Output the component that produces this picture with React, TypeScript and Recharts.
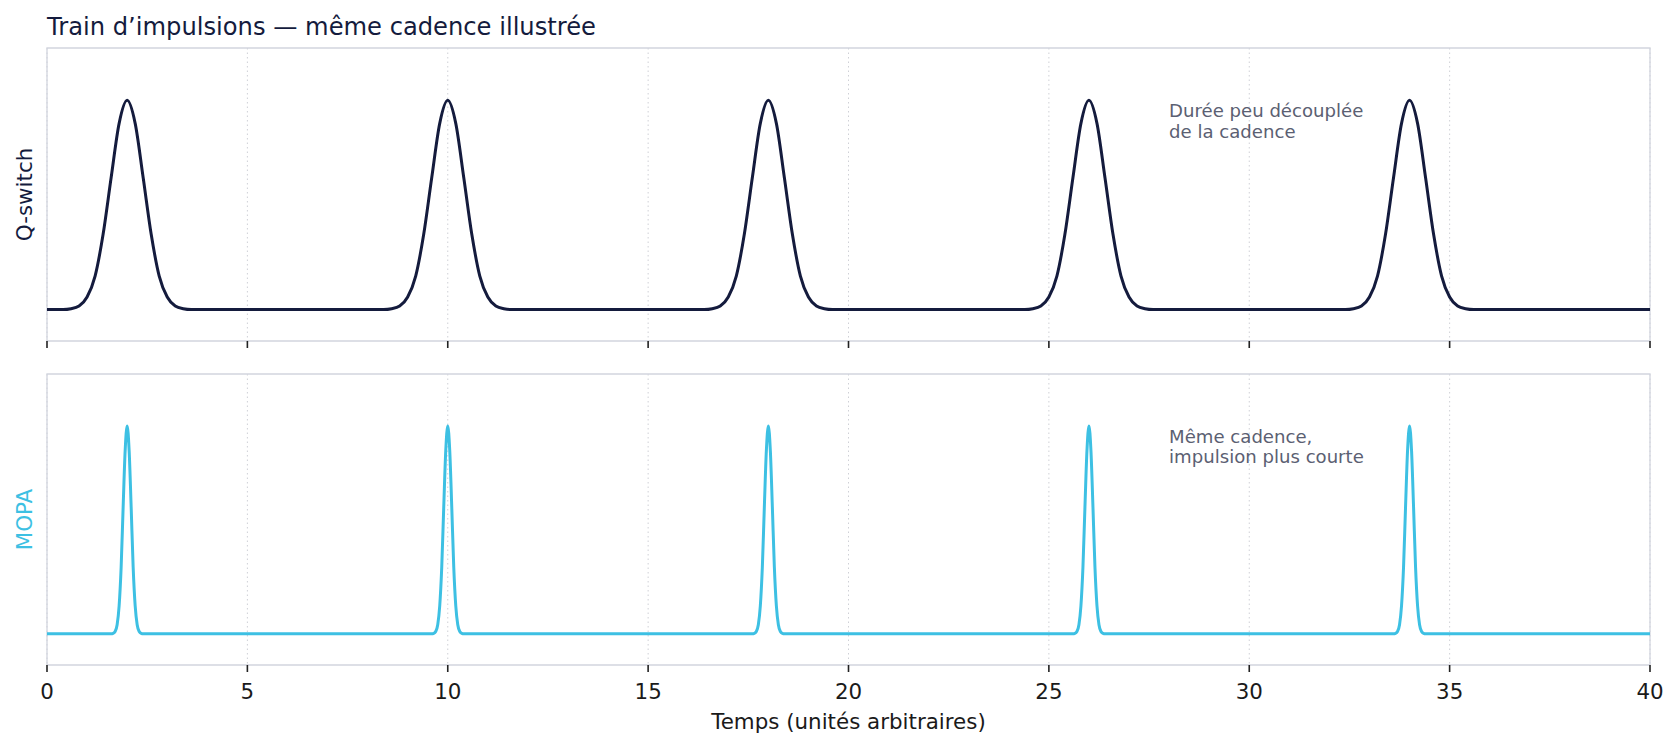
import React from "react";
import {
  LineChart,
  Line,
  XAxis,
  YAxis,
  CartesianGrid,
  ReferenceArea,
  ReferenceDot,
} from "recharts";

// ---- data ----
const pulseCenters = [2, 10, 18, 26, 34];
const timeTicks = [0, 5, 10, 15, 20, 25, 30, 35, 40];
const timeRange = [0, 40];

// Q-switch pulse profile (offset from pulse centre -> relative level)
const qswitchOffsets = [-1.6, -1.4, -1.2, -1.0, -0.8, -0.6, -0.4, -0.2, 0, 0.2, 0.4, 0.6, 0.8, 1.0, 1.2, 1.4, 1.6];
const qswitchShape = [0, 0.004, 0.017, 0.06, 0.16, 0.36, 0.63, 0.89, 1, 0.89, 0.63, 0.36, 0.16, 0.06, 0.017, 0.004, 0];

// MOPA pulse profile (much shorter)
const mopaOffsets = [-0.4, -0.35, -0.3, -0.25, -0.2, -0.15, -0.1, -0.05, 0, 0.05, 0.1, 0.15, 0.2, 0.25, 0.3, 0.35, 0.4];
const mopaShape = [0, 0.002, 0.011, 0.044, 0.135, 0.32, 0.61, 0.88, 1, 0.88, 0.61, 0.32, 0.135, 0.044, 0.011, 0.002, 0];

const levelDomain = [-0.15, 1.25];

const titleText = "Train d’impulsions — même cadence illustrée";
const xLabel = "Temps (unités arbitraires)";
const qswitchName = "Q-switch";
const mopaName = "MOPA";
const qswitchNote = ["Durée peu découplée", "de la cadence"];
const mopaNote = ["Même cadence,", "impulsion plus courte"];
const noteAt = { t: 28, level: 0.92 };

// ---- build tables ----
function buildSeries(offsets: number[], shape: number[]) {
  const rows: { t: number; v: number }[] = [{ t: timeRange[0], v: 0 }];
  pulseCenters.forEach((c) => {
    offsets.forEach((o, i) => rows.push({ t: +(c + o).toFixed(3), v: shape[i] }));
  });
  rows.push({ t: timeRange[1], v: 0 });
  return rows;
}
const qswitchData = buildSeries(qswitchOffsets, qswitchShape);
const mopaData = buildSeries(mopaOffsets, mopaShape);

const NAVY = "#141b3d";
const CYAN = "#3dc0e3";
const FRAME = "#d2d5de";
const GRID = "#cfd0d6";
const NOTE = "#5b6072";
const FONT = "'DejaVu Sans', sans-serif";
const TICK_FS = 21.4;
const NOTE_FS = 18.1;

const Note = (lines: string[]) => (props: any) => {
  const { cx, cy } = props;
  return (
    <g>
      {lines.map((l, i) => (
        <text key={i} x={cx} y={cy + i * 20.8} fill={NOTE} fontSize={NOTE_FS} fontFamily={FONT}>
          {l}
        </text>
      ))}
    </g>
  );
};

const EmptyTick = () => <g />;

function Panel(props: {
  data: { t: number; v: number }[];
  color: string;
  name: string;
  note: string[];
  height: number;
  marginTop: number;
  axisHeight: number;
  showLabels: boolean;
}) {
  const { data, color, name, note, height, marginTop, axisHeight, showLabels } = props;
  return (
    <LineChart
      width={1680}
      height={height}
      data={data}
      margin={{ top: marginTop, right: 30, bottom: 0, left: 0 }}
    >
      <CartesianGrid horizontal={false} stroke={GRID} strokeDasharray="1.5 3" />
      <XAxis
        dataKey="t"
        type="number"
        domain={timeRange}
        ticks={timeTicks}
        interval={0}
        height={axisHeight}
        axisLine={false}
        tickLine={{ stroke: "#222", strokeWidth: 1.6 }}
        tickSize={7}
        tickMargin={12}
        tick={showLabels ? { fill: "#1a1a1a", fontSize: TICK_FS, fontFamily: FONT } : EmptyTick}
        label={
          showLabels
            ? { value: xLabel, position: "insideBottom", offset: 22.7, fill: "#1a1a1a", fontSize: TICK_FS, fontFamily: FONT }
            : undefined
        }
      />
      <YAxis
        type="number"
        domain={levelDomain}
        allowDataOverflow
        width={47}
        tick={false}
        tickLine={false}
        axisLine={false}
        label={{ value: name, angle: -90, position: "center", fill: color, fontSize: TICK_FS, fontFamily: FONT, dx: 1 }}
      />
      <ReferenceArea
        x1={timeRange[0]}
        x2={timeRange[1]}
        y1={levelDomain[0]}
        y2={levelDomain[1]}
        fill="none"
        stroke={FRAME}
        strokeWidth={1.3}
        ifOverflow="visible"
      />
      <Line
        dataKey="v"
        type="monotone"
        stroke={color}
        strokeWidth={3}
        dot={false}
        activeDot={false}
        isAnimationActive={false}
      />
      <ReferenceDot x={noteAt.t} y={noteAt.level} ifOverflow="visible" shape={Note(note)} />
    </LineChart>
  );
}

export default function App() {
  return (
    <div
      style={{
        position: "absolute",
        left: 0,
        top: 0,
        width: 1680,
        height: 752,
        background: "#ffffff",
        fontFamily: FONT,
        overflow: "hidden",
      }}
    >
      <svg width={1680} height={48} style={{ position: "absolute", left: 0, top: 0 }}>
        <text x={47} y={34.5} fill={NAVY} fontSize={24.2} fontFamily={FONT}>
          {titleText}
        </text>
      </svg>
      <div style={{ position: "absolute", left: 0, top: 0 }}>
        <Panel
          data={qswitchData}
          color={NAVY}
          name={qswitchName}
          note={qswitchNote}
          height={372}
          marginTop={48}
          axisHeight={31}
          showLabels={false}
        />
      </div>
      <div style={{ position: "absolute", left: 0, top: 372 }}>
        <Panel
          data={mopaData}
          color={CYAN}
          name={mopaName}
          note={mopaNote}
          height={380}
          marginTop={2}
          axisHeight={87}
          showLabels={true}
        />
      </div>
    </div>
  );
}
